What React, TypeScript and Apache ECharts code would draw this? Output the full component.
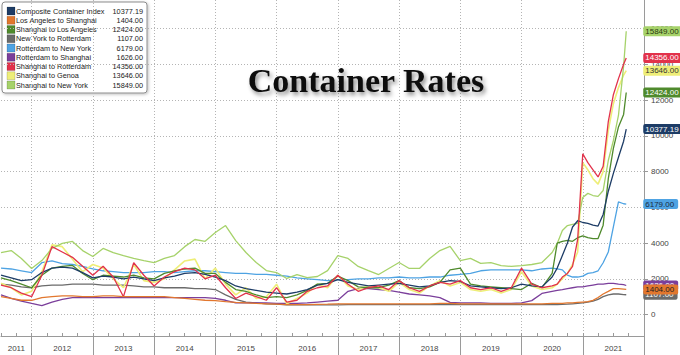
import React, { useEffect, useRef } from 'react';
import * as echarts from 'echarts';

// Decimal-year dates (bi-monthly until mid-2020, then monthly)
const DATES = [
  2011.5, 2011.667, 2011.833, 2012, 2012.167, 2012.333, 2012.5, 2012.667, 2012.833,
  2013, 2013.167, 2013.333, 2013.5, 2013.667, 2013.833,
  2014, 2014.167, 2014.333, 2014.5, 2014.667, 2014.833,
  2015, 2015.167, 2015.333, 2015.5, 2015.667, 2015.833,
  2016, 2016.167, 2016.333, 2016.5, 2016.667, 2016.833,
  2017, 2017.167, 2017.333, 2017.5, 2017.667, 2017.833,
  2018, 2018.167, 2018.333, 2018.5, 2018.667, 2018.833,
  2019, 2019.167, 2019.333, 2019.5, 2019.667, 2019.833,
  2020, 2020.167, 2020.333, 2020.5,
  2020.583, 2020.667, 2020.75, 2020.833, 2020.917,
  2021, 2021.083, 2021.167, 2021.25, 2021.333, 2021.417, 2021.5, 2021.583, 2021.667, 2021.71,
];

const COMPOSITE = [
  2200, 2050, 1900, 1950, 2350, 2600, 2650, 2600, 2350, 2050, 2150, 2100, 2000, 2100, 2000,
  1900, 2050, 2150, 2300, 2350, 2250, 2100, 1900, 1600, 1450, 1350, 1250, 1200, 1150, 1250,
  1400, 1650, 1750, 1950, 1800, 1700, 1600, 1650, 1700, 1750, 1650, 1550, 1600, 1800, 1900,
  1850, 1600, 1550, 1500, 1450, 1500, 1700, 1600, 1550, 2100,
  2600, 3300, 4000, 4900, 5250, 5150, 5100, 5000, 4950, 5600, 6900, 7900, 8800, 9700, 10377.19,
];
const LA_SHANGHAI = [
  1000, 900, 800, 800, 950, 1000, 1050, 1050, 1000, 1000, 1050, 1050, 1000, 1000, 1000,
  1000, 1000, 950, 900, 850, 800, 780, 720, 680, 650, 620, 600, 580, 560, 560,
  560, 570, 580, 600, 600, 600, 600, 600, 600, 600, 600, 600, 600, 620, 620,
  600, 600, 600, 600, 600, 600, 600, 600, 600, 620,
  620, 630, 650, 650, 680, 700, 720, 800, 950, 1150, 1300, 1450, 1450, 1420, 1404,
];
const SHANGHAI_LA = [
  2050, 1900, 1700, 1500, 2200, 2600, 2700, 2750, 2300, 1950, 2200, 2150, 2100, 2200, 2050,
  2000, 2300, 2450, 2550, 2600, 2300, 2300, 1800, 1400, 1300, 1100, 950, 1000, 950, 1100,
  1350, 1700, 1750, 2150, 1900, 1550, 1500, 1500, 1650, 1900, 1500, 1450, 1550, 1800, 2500,
  2600, 1700, 1600, 1550, 1500, 1450, 1400, 1750, 1500, 2300,
  4000, 4100, 4150, 4100, 4300, 4400, 4300, 4250, 4250, 5000, 7600, 9300, 10500, 11200, 12424,
];
const NY_ROTTERDAM = [
  1700, 1650, 1550, 1500, 1600, 1650, 1650, 1700, 1700, 1700, 1650, 1650, 1650, 1600, 1550,
  1550, 1500, 1500, 1500, 1450, 1450, 1400, 1100, 850, 700, 650, 600, 580, 540, 540,
  540, 540, 540, 540, 550, 550, 550, 550, 550, 550, 550, 550, 550, 560, 560,
  560, 550, 550, 550, 550, 550, 550, 560, 560, 560,
  560, 570, 580, 600, 620, 650, 700, 750, 850, 1000, 1100, 1150, 1150, 1120, 1107,
];
const ROTTERDAM_NY = [
  2600, 2550, 2450, 2350, 2900, 3000, 2850, 2800, 2700, 2550, 2450, 2400, 2350, 2350, 2350,
  2400, 2400, 2350, 2400, 2450, 2450, 2400, 2350, 2300, 2300, 2250, 2250, 2200, 2150, 2050,
  2000, 1950, 1900, 1950, 1950, 2000, 2000, 2050, 2050, 2100, 2050, 2050, 2100, 2100, 2200,
  2250, 2300, 2450, 2500, 2500, 2500, 2500, 2450, 2550, 2600,
  2550, 2500, 2200, 2100, 2100, 2150, 2300, 2350, 2450, 2900, 3500, 4900, 6300, 6200, 6179,
];
const ROTTERDAM_SHANGHAI = [
  1100, 900, 750, 620, 500, 700, 850, 950, 950, 950, 950, 950, 950, 950, 950,
  950, 950, 950, 950, 950, 950, 900, 800, 650, 650, 650, 650, 620, 620, 620,
  650, 700, 750, 800, 1300, 1450, 1450, 1400, 1350, 1250, 1150, 1100, 1050, 950, 680,
  650, 650, 650, 620, 620, 620, 650, 780, 1180, 1300,
  1350, 1400, 1450, 1500, 1550, 1550, 1600, 1650, 1700, 1700, 1750, 1750, 1700, 1680, 1626,
];
const SHANGHAI_ROTTERDAM = [
  1650, 1500, 1200, 1000, 2200, 3800, 3500, 3200, 2700, 2200, 2700, 2100, 1000, 2900, 2200,
  1600, 2100, 2400, 2600, 2500, 2000, 2200, 1500, 900, 1200, 1000, 800, 1500, 700, 800,
  1300, 1500, 1600, 2200, 1700, 1300, 1500, 1600, 1400, 1900, 1500, 1300, 1600, 1800, 1700,
  1900, 1500, 1400, 1500, 1300, 1500, 2600, 1700, 1500, 1600,
  1700, 2100, 2300, 2700, 4200, 9000, 8500, 8100, 7700, 8300, 10800, 12300, 13200, 14000, 14356,
];
const SHANGHAI_GENOA = [
  1750, 1500, 1100, 1300, 2400, 3900, 3800, 3100, 2400, 2800, 2600, 2000, 1500, 2800, 1900,
  1800, 2000, 2500, 3000, 3100, 2000, 2600, 1700, 1100, 1500, 900, 1000, 1700, 600, 900,
  1200, 1700, 1500, 2200, 1600, 1400, 1600, 1500, 1300, 1800, 1400, 1200, 1600, 1900, 1600,
  1800, 1400, 1300, 1400, 1200, 1400, 2400, 1600, 1400, 1500,
  1700, 2000, 2300, 2800, 3500, 8500, 8100, 7600, 7300, 8000, 10300, 11800, 12700, 13400, 13646,
];
const SHANGHAI_NY = [
  3470, 3580, 3140, 2580, 3020, 3700, 3980, 4090, 3580, 3250, 3700, 3470, 3300, 3140, 3020,
  2910, 3140, 3300, 3800, 4200, 4100, 4590, 4980, 4140, 3470, 2910, 2460, 2350, 2020, 2240,
  2070, 2130, 2460, 3300, 3140, 2690, 2460, 2240, 2580, 2910, 2580, 2580, 3140, 3580, 3810,
  3020, 3140, 2860, 2910, 2740, 2690, 2740, 2800, 2910, 3470,
  3980, 4700, 4980, 5040, 5100, 6550, 6780, 6660, 6610, 6940, 8620, 9740, 11140, 13900, 15849,
];

const SERIES_NAMES = [
  'Composite Container Index',
  'Los Angeles to Shanghai',
  'Shanghai to Los Angeles',
  'New York to Rotterdam',
  'Rotterdam to New York',
  'Rotterdam to Shanghai',
  'Shanghai to Rotterdam',
  'Shanghai to Genoa',
  'Shanghai to New York',
];
const SERIES_VALUES = [
  COMPOSITE, LA_SHANGHAI, SHANGHAI_LA, NY_ROTTERDAM, ROTTERDAM_NY,
  ROTTERDAM_SHANGHAI, SHANGHAI_ROTTERDAM, SHANGHAI_GENOA, SHANGHAI_NY,
];
const SERIES_COLORS = [
  '#1d3c66', '#e2772e', '#4f8a2c', '#6b6b6b', '#4ea3e3',
  '#7b3f9b', '#e2324b', '#eeee78', '#a6d26a',
];
const TAG_TEXT_COLORS = [
  '#ffffff', '#222222', '#ffffff', '#ffffff', '#1a2a40',
  '#ffffff', '#ffffff', '#333333', '#2a3a10',
];
// drawing order (last drawn on top)
const DRAW_ORDER = [3, 5, 4, 7, 8, 2, 0, 6, 1];

const YEAR_LABELS = ['2011', '2012', '2013', '2014', '2015', '2016', '2017', '2018', '2019', '2020', '2021'];
const Y_TICKS = [0, 2000, 4000, 6000, 8000, 10000, 12000, 14000, 16000];

const X_MIN = 2011.5;
const X_MAX = 2022;
const Y_MIN = -1200;
const Y_MAX = 17600;

export default function App() {
  const ref = useRef<HTMLDivElement>(null);

  useEffect(() => {
    const chart = echarts.init(ref.current as HTMLDivElement, null, { renderer: 'svg' });

    const quarterCats: string[] = [];
    for (let v = X_MIN; v <= X_MAX + 1e-9; v += 0.25) quarterCats.push(String(v));
    const yCats: string[] = [];
    for (let v = Y_MIN; v <= Y_MAX; v += 200) yCats.push(String(v));

    const yearLabelPos = (v: number) => {
      const y = Math.floor(v);
      const first = Number(YEAR_LABELS[0]);
      if (y === first) return Math.abs(v - 2011.75) < 1e-6;
      return Math.abs(v - y - 0.5) < 1e-6 && YEAR_LABELS.indexOf(String(y)) >= 0;
    };

    const series: any[] = DRAW_ORDER.map((k, order) => ({
      name: SERIES_NAMES[k],
      type: 'line',
      xAxisIndex: 0,
      yAxisIndex: 0,
      symbol: 'none',
      z: k === 1 ? 5 : 2 + order * 0.01,
      data: DATES.map((d, i) => [d, SERIES_VALUES[k][i]]),
      lineStyle: { color: SERIES_COLORS[k], width: k === 7 ? 1.6 : 1.3 },
      itemStyle: { color: SERIES_COLORS[k] },
      endLabel: {
        show: true,
        distance: 17,
        formatter: (p: any) => Number(p.value[1]).toFixed(2),
        backgroundColor: SERIES_COLORS[k],
        color: TAG_TEXT_COLORS[k],
        fontFamily: 'Liberation Sans',
        fontSize: 8,
        padding: [1, 4, 1, 2],
        borderRadius: 2,
      },
    }));

    const legendItems: any[] = [];
    legendItems.push({
      type: 'rect',
      shape: { x: 2, y: 2, width: 145, height: 91, r: 3 },
      style: {
        fill: '#ffffff', stroke: '#8c8c8c', lineWidth: 1,
        shadowBlur: 3, shadowColor: 'rgba(0,0,0,0.25)', shadowOffsetX: 1, shadowOffsetY: 1,
      },
    });
    SERIES_NAMES.forEach((name, i) => {
      const cy = 11 + i * 9.25;
      legendItems.push({
        type: 'rect',
        shape: { x: 7, y: cy - 4, width: 8, height: 8 },
        style: { fill: SERIES_COLORS[i], stroke: 'rgba(0,0,0,0.3)', lineWidth: 0.5 },
      });
      legendItems.push({
        type: 'text',
        x: 16,
        y: cy,
        style: {
          text: name, fill: '#222', font: '7.3px "Liberation Sans"',
          verticalAlign: 'middle', textVerticalAlign: 'middle',
        },
      });
      const vals = SERIES_VALUES[i];
      legendItems.push({
        type: 'text',
        x: 143,
        y: cy,
        style: {
          text: Number(vals[vals.length - 1]).toFixed(2), fill: '#222', font: '7.3px "Liberation Sans"',
          align: 'right', textAlign: 'right', verticalAlign: 'middle', textVerticalAlign: 'middle',
        },
      });
    });

    const option: any = {
      animation: false,
      backgroundColor: '#ffffff',
      title: {
        text: 'Container Rates',
        left: 366,
        top: 63,
        textAlign: 'center',
        padding: 0,
        textStyle: {
          fontFamily: 'Liberation Serif',
          fontWeight: 'bold',
          fontSize: 34,
          color: '#111111',
          textShadowColor: 'rgba(0,0,0,0.45)',
          textShadowBlur: 4,
          textShadowOffsetX: 2,
          textShadowOffsetY: 3,
        },
      },
      grid: { left: 1, right: 36, top: 0, bottom: 19, containLabel: false },
      xAxis: [
        {
          type: 'value',
          min: X_MIN,
          max: X_MAX,
          interval: 0.25,
          axisLine: { show: true, onZero: false, lineStyle: { color: '#9a9a9a', width: 1 } },
          axisTick: { show: true, inside: true, length: 3, lineStyle: { color: '#9a9a9a' } },
          axisLabel: { show: false },
          splitLine: { show: false },
        },
        {
          type: 'category',
          boundaryGap: false,
          data: quarterCats,
          position: 'bottom',
          axisLine: { show: false, onZero: false },
          axisTick: {
            show: true,
            length: 19,
            interval: (_i: number, v: string) => Number(v) % 1 === 0,
            lineStyle: { color: '#9a9a9a' },
          },
          axisLabel: {
            show: true,
            interval: (_i: number, v: string) => yearLabelPos(Number(v)),
            formatter: (v: string) => String(Math.floor(Number(v))),
            color: '#444',
            fontFamily: 'Liberation Sans',
            fontSize: 8,
            margin: 8,
          },
          splitLine: {
            show: true,
            interval: (_i: number, v: string) => Number(v) % 1 === 0 && Number(v) < X_MAX,
            lineStyle: { color: '#b4b4b4', type: [1, 2], width: 1 },
          },
        },
      ],
      yAxis: [
        {
          type: 'value',
          min: Y_MIN,
          max: Y_MAX,
          position: 'right',
          show: false,
          splitLine: { show: false },
        },
        {
          type: 'category',
          boundaryGap: false,
          data: yCats,
          position: 'right',
          axisLine: { show: true, onZero: false, lineStyle: { color: '#9a9a9a', width: 1 } },
          axisTick: {
            show: true,
            length: 4,
            interval: (_i: number, v: string) => Y_TICKS.indexOf(Number(v)) >= 0,
            lineStyle: { color: '#9a9a9a' },
          },
          axisLabel: {
            show: true,
            interval: (_i: number, v: string) => Y_TICKS.indexOf(Number(v)) >= 0,
            color: '#444',
            fontFamily: 'Liberation Sans',
            fontSize: 8,
            margin: 7,
          },
          splitLine: {
            show: true,
            interval: (_i: number, v: string) => Y_TICKS.indexOf(Number(v)) >= 0,
            lineStyle: { color: '#b4b4b4', type: [1, 2], width: 1 },
          },
        },
      ],
      graphic: [{ type: 'group', z: 100, children: legendItems }],
      series,
    };

    chart.setOption(option);
    return () => chart.dispose();
  }, []);

  return (
    <div
      ref={ref}
      style={{ position: 'fixed', left: 0, top: 0, width: 680, height: 355, background: '#fff' }}
    />
  );
}
